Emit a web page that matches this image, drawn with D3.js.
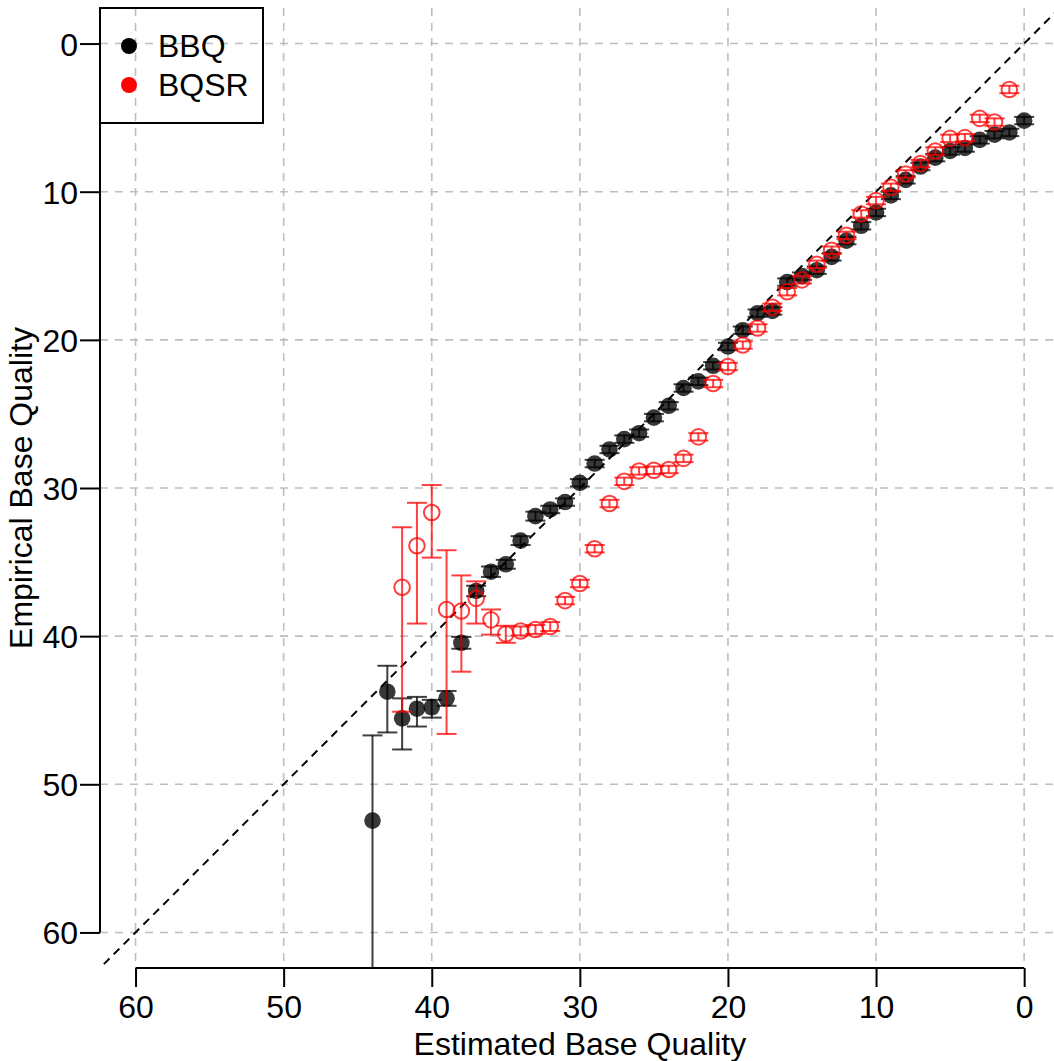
<!DOCTYPE html>
<html>
<head>
<meta charset="utf-8">
<script src="https://cdn.jsdelivr.net/npm/d3@7"></script>
<style>
  body { margin: 0; background: #fff; }
  svg text { font-family: "Liberation Sans", Arial, Helvetica, sans-serif; fill: #000; }
</style>
</head>
<body>
<div id="chart"></div>
<script>
// estimated quality score (x) for each series
const bbqQual = d3.range(0, 45);
const bqsrQual = d3.range(1, 43);

// empirical quality (y)
const bbqEmp = [5.2, 6.0, 6.15, 6.5, 7.05, 7.25, 7.7, 8.3, 9.2, 10.25,
    11.4, 12.3, 13.3, 14.4, 15.3, 15.7, 16.1, 18.05, 18.2, 19.35,
    20.45, 21.75, 22.8, 23.25, 24.45, 25.25, 26.3, 26.7, 27.4, 28.35,
    29.65, 30.95, 31.45, 31.9, 33.55, 35.15, 35.65, 36.95, 40.45, 44.2,
    44.8, 44.9, 45.55, 43.75, 52.45];
const bqsrEmp = [3.1, 5.3, 5.05, 6.35, 6.4, 7.25, 8.1, 8.8, 9.7,
    10.6, 11.5, 12.95, 13.95, 14.9, 15.95, 16.75, 17.8, 19.2, 20.35,
    21.8, 22.95, 26.55, 28.0, 28.75, 28.8, 28.85, 29.55, 31.05, 34.1,
    36.45, 37.6, 39.35, 39.55, 39.65, 39.85, 38.9, 37.45, 38.3, 38.2,
    31.65, 33.9, 36.7];

// interval bounds (low / high), small ones are roughly +-0.3
const bbqLow = [4.95, 5.75, 5.9, 6.25, 6.8, 7.0, 7.45, 8.05, 8.95, 10.0,
    11.15, 12.05, 13.05, 14.15, 15.05, 15.45, 15.85, 17.8, 17.95, 19.1,
    20.2, 21.5, 22.55, 23.0, 24.2, 25.0, 26.05, 26.45, 27.15, 28.1,
    29.4, 30.7, 31.2, 31.6, 33.25, 34.85, 35.3, 36.6, 40.05, 43.7,
    44.3, 44.1, 44.2, 42.0, 46.7];
const bbqHigh = [5.45, 6.25, 6.4, 6.75, 7.3, 7.5, 7.95, 8.55, 9.45, 10.5,
    11.65, 12.55, 13.55, 14.65, 15.55, 15.95, 16.35, 18.3, 18.45, 19.6,
    20.7, 22.0, 23.05, 23.5, 24.7, 25.5, 26.55, 26.95, 27.65, 28.6,
    29.9, 31.2, 31.7, 32.2, 33.85, 35.45, 36.0, 37.3, 40.85, 44.7,
    45.5, 46.1, 47.65, 46.5, 70];
const bqsrLow = [2.85, 5.05, 4.8, 6.1, 6.15, 7.0, 7.85, 8.55, 9.45,
    10.35, 11.25, 12.7, 13.7, 14.65, 15.7, 16.5, 17.55, 18.95, 20.1,
    21.55, 22.7, 26.3, 27.75, 28.5, 28.55, 28.6, 29.3, 30.8, 33.85,
    36.2, 37.35, 39.05, 39.25, 39.35, 39.3, 38.2, 36.3, 35.9, 34.2,
    29.8, 31.0, 32.65];
const bqsrHigh = [3.35, 5.55, 5.3, 6.6, 6.65, 7.5, 8.35, 9.05, 9.95,
    10.85, 11.75, 13.2, 14.2, 15.15, 16.2, 17.0, 18.05, 19.45, 20.6,
    22.05, 23.2, 26.8, 28.25, 29.0, 29.05, 29.1, 29.8, 31.3, 34.35,
    36.7, 37.85, 39.65, 39.85, 39.95, 40.45, 39.9, 39.15, 42.4, 46.6,
    34.7, 39.15, 45.1];

const axisTicks = [0, 10, 20, 30, 40, 50, 60];
const seriesNames = ["BBQ", "BQSR"];

const width = 1054, height = 1061;
const svg = d3.select("#chart").append("svg")
    .attr("width", width)
    .attr("height", height);

// reversed axes, R style 4% padding
const x = d3.scaleLinear().domain([62.4, -2.4]).range([100, 1059.7]);
const y = d3.scaleLinear().domain([-2.4, 62.4]).range([8, 968]);
const [plotLeft, plotRight] = x.range();
const [plotTop, plotBottom] = y.range();

svg.append("defs").append("clipPath")
    .attr("id", "plot-clip")
    .append("rect")
    .attr("x", plotLeft).attr("y", plotTop)
    .attr("width", plotRight - plotLeft).attr("height", plotBottom - plotTop);

const plot = svg.append("g").attr("clip-path", "url(#plot-clip)");

// grid
plot.selectAll(".vgrid").data(axisTicks).enter().append("line")
    .attr("x1", d => x(d)).attr("x2", d => x(d))
    .attr("y1", plotTop).attr("y2", plotBottom)
    .attr("stroke", "#bebebe").attr("stroke-width", 1.6)
    .attr("stroke-dasharray", "8,7");
plot.selectAll(".hgrid").data(axisTicks).enter().append("line")
    .attr("y1", d => y(d)).attr("y2", d => y(d))
    .attr("x1", plotLeft).attr("x2", plotRight)
    .attr("stroke", "#bebebe").attr("stroke-width", 1.6)
    .attr("stroke-dasharray", "8,7");

// identity line
plot.append("line")
    .attr("x1", x(-2.4)).attr("y1", y(-2.4))
    .attr("x2", x(62.4)).attr("y2", y(62.4))
    .attr("stroke", "#000").attr("stroke-width", 2)
    .attr("stroke-dasharray", "8,6");

function drawSeries(qual, emp, lo, hi, cls, color, filled) {
    const data = qual.map((q, i) => ({ q, e: emp[i], lo: lo[i], hi: hi[i] }));
    const g = plot.append("g").attr("class", cls);
    const capW = 10;

    const bars = g.selectAll(".bar").data(data).enter().append("g")
        .attr("stroke", color)
        .attr("stroke-opacity", 0.75)
        .attr("stroke-width", 2);
    bars.append("line")
        .attr("x1", d => x(d.q)).attr("x2", d => x(d.q))
        .attr("y1", d => y(d.lo)).attr("y2", d => y(d.hi));
    bars.append("line")
        .attr("x1", d => x(d.q) - capW).attr("x2", d => x(d.q) + capW)
        .attr("y1", d => y(d.lo)).attr("y2", d => y(d.lo));
    bars.append("line")
        .attr("x1", d => x(d.q) - capW).attr("x2", d => x(d.q) + capW)
        .attr("y1", d => y(d.hi)).attr("y2", d => y(d.hi));

    const pts = g.selectAll(".pt").data(data).enter().append("circle")
        .attr("cx", d => x(d.q))
        .attr("cy", d => y(d.e));
    if (filled) {
        pts.attr("r", 8.3).attr("fill", color).attr("fill-opacity", 0.78);
    } else {
        pts.attr("r", 7.8).attr("fill", "none")
            .attr("stroke", color).attr("stroke-opacity", 0.75)
            .attr("stroke-width", 2);
    }
}

drawSeries(bbqQual, bbqEmp, bbqLow, bbqHigh, "bbq", "#000", true);
drawSeries(bqsrQual, bqsrEmp, bqsrLow, bqsrHigh, "bqsr", "#ff0000", false);

// axes
const fontSize = 32;
const xAxis = svg.append("g").attr("transform", `translate(0,${plotBottom})`)
    .call(d3.axisBottom(x).tickValues(axisTicks).tickSize(19).tickPadding(9).tickSizeOuter(0));
const yAxis = svg.append("g").attr("transform", `translate(${plotLeft},0)`)
    .call(d3.axisLeft(y).tickValues(axisTicks).tickSize(20).tickPadding(2).tickSizeOuter(0));

[xAxis, yAxis].forEach(ax => {
    ax.select(".domain").remove();
    ax.selectAll(".tick line").attr("stroke", "#000").attr("stroke-width", 2);
    ax.selectAll(".tick text")
        .attr("font-size", fontSize)
        .attr("font-family", "Liberation Sans, Arial, sans-serif")
        .attr("fill", "#000");
});
xAxis.selectAll(".tick text").attr("dy", "0.7em");
yAxis.selectAll(".tick text").attr("dy", "0.36em");

// R-style axis lines spanning the tick range only
svg.append("line")
    .attr("x1", x(60)).attr("x2", x(0)).attr("y1", plotBottom).attr("y2", plotBottom)
    .attr("stroke", "#000").attr("stroke-width", 2);
svg.append("line")
    .attr("x1", plotLeft).attr("x2", plotLeft).attr("y1", y(0)).attr("y2", y(60))
    .attr("stroke", "#000").attr("stroke-width", 2);

// axis titles
svg.append("text")
    .attr("x", (plotLeft + plotRight) / 2).attr("y", 1055)
    .attr("text-anchor", "middle")
    .attr("font-size", fontSize)
    .text("Estimated Base Quality");
svg.append("text")
    .attr("transform", `translate(32,${(plotTop + plotBottom) / 2}) rotate(-90)`)
    .attr("text-anchor", "middle")
    .attr("font-size", fontSize)
    .text("Empirical Base Quality");

// legend
const legend = svg.append("g");
legend.append("rect")
    .attr("x", plotLeft).attr("y", plotTop)
    .attr("width", 163).attr("height", 115)
    .attr("fill", "none").attr("stroke", "#000").attr("stroke-width", 2);
const legendColors = ["#000", "#ff0000"];
seriesNames.forEach((name, i) => {
    const cy = 46 + i * 39;
    legend.append("circle")
        .attr("cx", 129).attr("cy", cy).attr("r", 8)
        .attr("fill", legendColors[i]);
    legend.append("text")
        .attr("x", 158).attr("y", cy + 11)
        .attr("font-size", fontSize)
        .text(name);
});
</script>
</body>
</html>
